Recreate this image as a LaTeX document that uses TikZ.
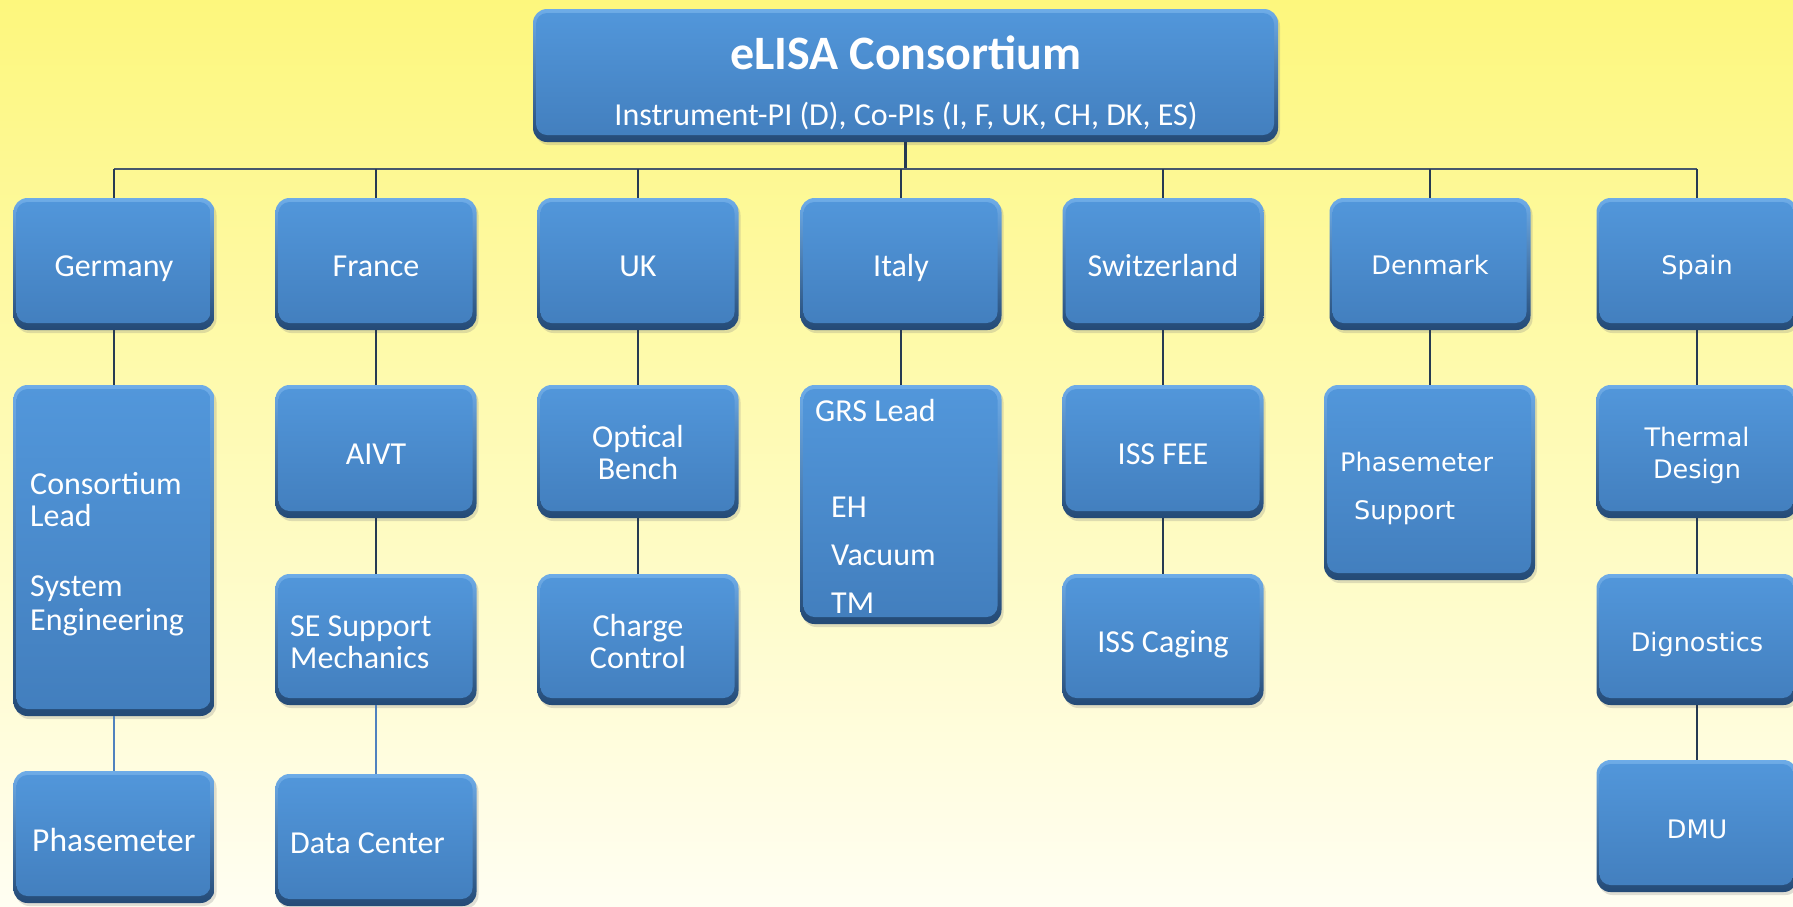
\documentclass[tikz,border=0pt]{standalone}
\usepackage{fontspec}
\setmainfont{Carlito}
\newfontfamily\dvfont{DejaVu Sans}
\usetikzlibrary{shadows}
\definecolor{bgtop}{RGB}{253,247,125}
\definecolor{bgbot}{RGB}{255,254,242}
\definecolor{rimtop}{RGB}{110,172,232}
\definecolor{rimbot}{RGB}{36,74,118}
\definecolor{boxtop}{RGB}{82,151,219}
\definecolor{boxbot}{RGB}{66,126,189}
\definecolor{linedark}{RGB}{38,58,82}
\definecolor{linelight}{RGB}{80,130,190}
\tikzset{
 box/.style={top color=rimtop, bottom color=rimbot, rounded corners=14pt, inner sep=0pt, minimum width=201pt, minimum height=132pt,
   drop shadow={shadow xshift=2pt, shadow yshift=-3pt, opacity=0.25},
   path picture={\shade[top color=boxtop, bottom color=boxbot, rounded corners=11pt]
     ([xshift=3pt,yshift=-4pt]path picture bounding box.north west) rectangle ([xshift=-4pt,yshift=7pt]path picture bounding box.south east);}},
 lbl/.style={text=white, inner sep=0pt, anchor=base, font=\fontsize{32}{32}\selectfont},
 lbll/.style={lbl, anchor=base west},
 dv/.style={text=white, inner sep=0pt, anchor=base, font=\dvfont\fontsize{25.5}{25.5}\selectfont},
 dvl/.style={dv, anchor=base west},
 conn/.style={draw=linedark, line width=2pt},
 connl/.style={draw=linelight, line width=1.5pt},
}
\begin{document}
\begin{tikzpicture}[x=1pt,y=-1pt]
\useasboundingbox (0,0) rectangle (1793,906);
\clip (0,0) rectangle (1793,906);
\shade[top color=bgtop, bottom color=bgbot] (0,0) rectangle (1793,906);

% bus coordinates
\coordinate (busL) at (114,169);
\coordinate (busR) at (1697,169);

% top box
\node[box, minimum width=745pt, minimum height=133pt] (cons) at (905.5,75.5) {};
\node[lbl, font=\bfseries\fontsize{48}{48}\selectfont] (title) at (906,69) {eLISA Consortium};
\node[lbl] (subtitle) at (906,125) {Instrument-PI (D), Co-PIs (I, F, UK, CH, DK, ES)};

% level 1
\node[box] (de) at (114,264) {};
\node[box] (fr) at (376,264) {};
\node[box] (uk) at (638,264) {};
\node[box] (it) at (901,264) {};
\node[box] (ch) at (1163,264) {};
\node[box] (dk) at (1430,264) {};
\node[box] (es) at (1697,264) {};
\node[lbl] (deT) at (114,276) {Germany};
\node[lbl] (frT) at (376,276) {France};
\node[lbl] (ukT) at (638,276) {UK};
\node[lbl] (itT) at (901,276) {Italy};
\node[lbl] (chT) at (1163,276) {Switzerland};
\node[dv] (dkT) at (1430,274) {Denmark};
\node[dv] (esT) at (1697,274) {Spain};

% level 2
\node[box, minimum height=331pt] (de2) at (114,550.5) {};
\node[box, minimum height=133pt] (fr2) at (376,451.5) {};
\node[box, minimum height=133pt] (uk2) at (638,451.5) {};
\node[box, minimum height=239pt] (it2) at (901,504.5) {};
\node[box, minimum height=133pt] (ch2) at (1163,451.5) {};
\node[box, minimum width=211pt, minimum height=195pt] (dk2) at (1429.5,482.5) {};
\node[box, minimum height=133pt] (es2) at (1697,451.5) {};

\node[lbll] (de2a) at (30,494) {Consortium};
\node[lbll] (de2b) at (30,526) {Lead};
\node[lbll] (de2c) at (30,596) {System};
\node[lbll] (de2d) at (30,630) {Engineering};
\node[lbl] (fr2T) at (376,464) {AIVT};
\node[lbl] (uk2a) at (638,447) {Optical};
\node[lbl] (uk2b) at (638,479) {Bench};
\node[lbll] (it2a) at (815,421) {GRS Lead};
\node[lbll] (it2b) at (831,517) {EH};
\node[lbll] (it2c) at (831,565) {Vacuum};
\node[lbll] (it2d) at (831,613) {TM};
\node[lbl] (ch2T) at (1163,464) {ISS FEE};
\node[dvl] (dk2a) at (1340,471) {Phasemeter};
\node[dvl] (dk2b) at (1354,519) {Support};
\node[dv] (es2a) at (1697,446) {Thermal};
\node[dv] (es2b) at (1697,478) {Design};

% level 3
\node[box] (de3) at (114,837) {};
\node[box, minimum height=131pt] (fr3) at (376,639.5) {};
\node[box, minimum height=131pt] (uk3) at (638,639.5) {};
\node[box, minimum height=131pt] (ch3) at (1163,639.5) {};
\node[box, minimum height=131pt] (es3) at (1697,639.5) {};
\node[lbll, font=\fontsize{33.5}{33.5}\selectfont] (de3T) at (32,851) {Phasemeter};
\node[lbll] (fr3a) at (290,636) {SE Support};
\node[lbll] (fr3b) at (290,668) {Mechanics};
\node[lbl] (uk3a) at (638,636) {Charge};
\node[lbl] (uk3b) at (638,668) {Control};
\node[lbl] (ch3T) at (1163,652) {ISS Caging};
\node[dv] (es3T) at (1697,651) {Dignostics};

% level 4
\node[box] (fr4) at (376,840) {};
\node[box] (es4) at (1697,826) {};
\node[lbll] (fr4T) at (290,853) {Data Center};
\node[dv] (es4T) at (1697,838) {DMU};

% connectors
\draw[conn, line width=3pt] (cons.south) -- (cons.south |- busL);
\draw[conn, draw=linedark!85!white] (busL) -- (busR);
\foreach \n in {de,fr,uk,it,ch,dk,es}{
  \draw[conn] (\n.north) -- (\n.north |- busL);
}
\draw[conn] (de.south) -- (de2.north);
\draw[conn] (fr.south) -- (fr2.north);
\draw[conn] (uk.south) -- (uk2.north);
\draw[conn] (it.south) -- (it2.north);
\draw[conn] (ch.south) -- (ch2.north);
\draw[conn] (dk.south) -- (dk.south |- dk2.north);
\draw[conn] (es.south) -- (es2.north);
\draw[conn] (fr2.south) -- (fr3.north);
\draw[conn] (uk2.south) -- (uk3.north);
\draw[conn] (ch2.south) -- (ch3.north);
\draw[conn] (es2.south) -- (es3.north);
\draw[conn] (es3.south) -- (es4.north);
\draw[connl] (de2.south) -- (de3.north);
\draw[connl] (fr3.south) -- (fr4.north);
\end{tikzpicture}
\end{document}
